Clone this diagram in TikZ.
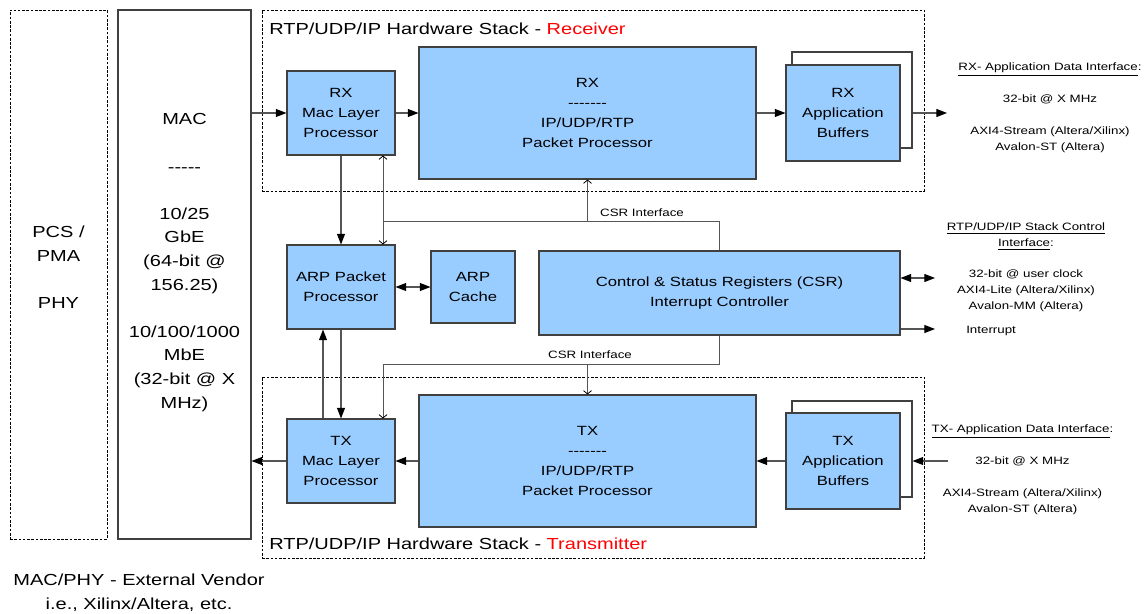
\documentclass[tikz,border=0pt]{standalone}
\usepackage{fontspec}
\setmainfont{Liberation Sans}[FakeStretch=1.25]
\usetikzlibrary{arrows.meta}
\definecolor{blkfill}{HTML}{99CCFF}
\definecolor{edge}{HTML}{404040}
\definecolor{wire}{HTML}{555555}
% single hyphen that never joins into an en or em dash
\newcommand\hy{\mbox{-}}

\begin{document}
\begin{tikzpicture}[x=0.75pt,y=-0.75pt,
  sz/.style 2 args={minimum width=#1*0.75pt, minimum height=#2*0.75pt},
  blk/.style={draw=edge, line width=0.8pt, fill=blkfill, inner sep=0pt, align=center,
              font=\fontsize{10}{15}\selectfont},
  backblk/.style={draw=edge, line width=0.8pt, fill=white, inner sep=0pt},
  grp/.style={draw=black, line width=0.5pt, dash pattern=on 2pt off 1.2pt, inner sep=0pt},
  solidgrp/.style={draw=edge, line width=0.8pt, inner sep=0pt},
  big/.style={align=center, font=\fontsize{12}{17.7}\selectfont, inner sep=0pt},
  small/.style={align=center, font=\fontsize{8}{12}\selectfont, inner sep=0pt},
  arr/.style={draw=wire, line width=0.8pt, -{Triangle[length=8pt,width=6pt,color=black]}},
  darr/.style={draw=wire, line width=0.8pt, {Triangle[length=8pt,width=6pt,color=black]}-{Triangle[length=8pt,width=6pt,color=black]}},
  csrl/.style={draw=wire, line width=0.6pt},
  csra/.style={csrl, -{Straight Barb[length=2.5pt,width=6pt,color=black]}}]

\useasboundingbox (0,0) rectangle (1146,614);

% vendor blocks and stack frames
\node[grp, sz={97}{529}] (pcs) at (58.5,274.5) {};
\node[big] (pcstxt) at (58.5,267) {PCS /\\PMA\\[17.7pt]PHY};
\node[solidgrp, sz={133}{529}] (mac) at (184.5,274.5) {};
\node[big] (mactxt) at (184.5,262.5) {MAC\\[17.7pt]\hy\hy\hy\hy\hy\\[17.7pt]10/25\\GbE\\(64-bit @\\156.25)\\[17.7pt]10/100/1000\\MbE\\(32-bit @ X\\MHz)};
\node[grp, sz={662}{181}] (rxgrp) at (593,100.5) {};
\node[grp, sz={662}{181}] (txgrp) at (593,467.5) {};
\node[big, anchor=west] (rxttl) at (269,29) {RTP/UDP/IP Hardware Stack - \textcolor{red}{Receiver}};
\node[big, anchor=west] (txttl) at (269,544) {RTP/UDP/IP Hardware Stack - \textcolor{red}{Transmitter}};
\node[big] (vendor) at (139,593) {MAC/PHY - External Vendor\\i.e., Xilinx/Altera, etc.};

% receive path
\node[blk, sz={108}{84}] (rxmac) at (341,113) {RX\\Mac Layer\\Processor};
\node[blk, sz={337}{132}] (rxpkt) at (587.5,113) {RX\\\hy\hy\hy\hy\hy\hy\hy\\IP/UDP/RTP\\Packet Processor};
\node[backblk, sz={120}{96}] (rxbufb) at (852,100) {};
\node[blk, sz={114}{96}] (rxbuf) at (843,113) {RX\\Application\\Buffers};

% ARP and control
\node[blk, sz={108}{84}] (arp) at (341,287) {ARP Packet\\Processor};
\node[blk, sz={84}{72}] (cache) at (473,287) {ARP\\Cache};
\node[blk, sz={361}{84}] (csr) at (719.5,293) {Control \& Status Registers (CSR)\\Interrupt Controller};

% transmit path
\node[blk, sz={108}{84}] (txmac) at (341,461) {TX\\Mac Layer\\Processor};
\node[blk, sz={337}{132}] (txpkt) at (587.5,461) {TX\\\hy\hy\hy\hy\hy\hy\hy\\IP/UDP/RTP\\Packet Processor};
\node[backblk, sz={120}{96}] (txbufb) at (852,449) {};
\node[blk, sz={114}{96}] (txbuf) at (843,461) {TX\\Application\\Buffers};

% interface descriptions
\node[small] (rxif) at (1050,108) {\underline{RX- Application Data Interface}:\\[12pt]32-bit @ X MHz\\[12pt]AXI4-Stream (Altera/Xilinx)\\Avalon-ST (Altera)};
\node[small] (ctlif) at (1026,267.5) {\underline{RTP/UDP/IP Stack Control}\\\underline{Interface}:\\[11pt]32-bit @ user clock\\AXI4-Lite (Altera/Xilinx)\\Avalon-MM (Altera)};
\node[small, anchor=west] (irqtxt) at (966,331) {Interrupt};
\node[small] (txif) at (1022.5,470) {\underline{TX- Application Data Interface}:\\[12pt]32-bit @ X MHz\\[12pt]AXI4-Stream (Altera/Xilinx)\\Avalon-ST (Altera)};

% free ends and routing points
\coordinate (rxout) at (947,113);
\coordinate (csrio) at (935,278);
\coordinate (irq) at (935,329);
\coordinate (txin) at (948,461);
\coordinate (upx) at (323,0);
\coordinate (cx) at (383,0);
\coordinate (cu) at (0,221);
\coordinate (cl) at (0,364);

% data path
\draw[arr] (mac.east |- rxmac.west) -- (rxmac.west);
\draw[arr] (rxmac.east) -- (rxpkt.west);
\draw[arr] (rxpkt.east) -- (rxbuf.west);
\draw[arr] (rxbufb.east |- rxbuf.east) -- (rxout);
\draw[darr] (csr.east |- csrio) -- (csrio);
\draw[arr] (csr.east |- irq) -- (irq);
\draw[arr] (txin) -- (txbufb.east |- txin);
\draw[arr] (txbuf.west) -- (txpkt.east);
\draw[arr] (txpkt.west) -- (txmac.east);
\draw[arr] (txmac.west) -- (mac.east |- txmac.west);
\draw[arr] (rxmac.south) -- (arp.north);
\draw[arr] (arp.south) -- (txmac.north);
\draw[arr] (txmac.north -| upx) -- (arp.south -| upx);
\draw[darr] (arp.east) -- (cache.west);

% CSR interface buses
\draw[csrl] (csr.north) |- (cx |- cu);
\draw[csra] (cx |- cu) -- (rxmac.south -| cx);
\draw[csra] (cx |- cu) -- (arp.north -| cx);
\draw[csra] (rxpkt.south |- cu) -- (rxpkt.south);
\node[small] (csrlblu) at (642,213) {CSR Interface};
\draw[csrl] (csr.south) |- (cx |- cl);
\draw[csra] (cx |- cl) -- (txmac.north -| cx);
\draw[csra] (txpkt.north |- cl) -- (txpkt.north);
\node[small] (csrlbll) at (590,355) {CSR Interface};
\end{tikzpicture}
\end{document}
